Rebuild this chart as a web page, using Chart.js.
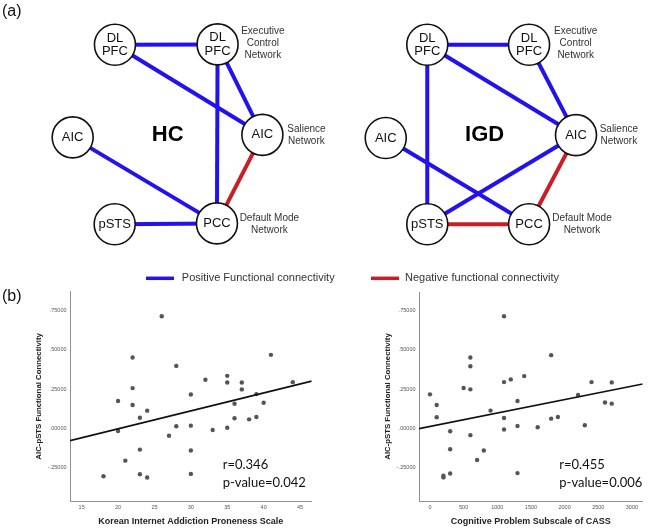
<!DOCTYPE html>
<html><head><meta charset="utf-8">
<script src="https://cdn.jsdelivr.net/npm/chart.js@4/dist/chart.umd.min.js"></script>
<style>
html,body{margin:0;padding:0;background:#fff;width:661px;height:528px;overflow:hidden;}
canvas{position:absolute;}
#net{left:0;top:0;}
#s1{left:0;top:285px;}
#s2{left:330px;top:285px;}
</style></head><body>
<canvas id="net" width="661" height="290"></canvas>
<canvas id="s1" width="330" height="243"></canvas>
<canvas id="s2" width="331" height="243"></canvas>
<script>
// ---------------- DATA ----------------
// Network diagram (a)
const nodeLabels = ['DL\nPFC','DL\nPFC','AIC','AIC','pSTS','PCC'];
const hcNodeX  = [99.5, 209.5, 54.2, 257.5, 99.2, 208.8];
const hcNodeY  = [26.7, 26.3, 136.0, 133.0, 238.5, 237.5];
const igdNodeX = [434.2, 543.3, 389.7, 593.6, 434.2, 543.3];
const igdNodeY = [26.7, 26.7, 136.7, 133.3, 238.5, 238.5];
const hcEdgeFrom = [0,0,1,1,2,4,3];
const hcEdgeTo   = [1,3,3,5,5,5,5];
const hcEdgeSign = [1,1,1,1,1,1,-1];
const igdEdgeFrom = [0,0,0,1,2,3,3,4];
const igdEdgeTo   = [1,3,4,3,5,4,5,5];
const igdEdgeSign = [1,1,1,1,1,1,-1,-1];
const groupNames = ['HC','IGD'];
const networkNames = [['Executive','Control','Network'],['Salience','Network'],['Default Mode','Network']];
const legendLabels = ['Positive Functional connectivity','Negative functional connectivity'];

// Scatter (b) left: Korean Internet Addiction Proneness Scale
const kiapsX  = [26,22,28,22,20,22,24,23,28,20,27,23,21,23,24,18,30,30,30,30,32,33,35,35,35,36,36,37,37,38,39,39,40,41,44];
const kiapsFC = [0.712,0.45,0.397,0.256,0.174,0.149,0.113,0.068,0.014,-0.016,-0.046,-0.134,-0.204,-0.29,-0.311,-0.303,0.216,0.018,-0.14,-0.288,0.309,-0.01,0.334,0.292,0.005,0.157,0.065,0.292,0.248,0.058,0.218,0.073,0.163,0.467,0.294];
const kiapsLineX = [13.4, 46.6];
const kiapsLineY = [-0.077, 0.300];
const kiapsTicks = [15,20,25,30,35,40,45];
const kiapsStats = ['r=0.346','p-value=0.042'];

// Scatter (b) right: Cognitive Problem Subscale of CASS
const cassX  = [0,100,100,200,200,300,300,300,500,600,600,600,600,700,800,900,1100,1100,1100,1100,1200,1300,1300,1300,1400,1600,1800,1800,1900,2200,2300,2400,2600,2700,2700];
const cassFC = [0.217,0.15,0.072,-0.300,-0.310,-0.017,-0.131,-0.285,0.257,0.451,0.396,0.249,-0.042,-0.2,-0.139,0.114,0.713,0.295,0.067,-0.006,0.312,0.175,0.016,-0.283,0.333,0.008,0.466,0.063,0.073,0.213,0.021,0.295,0.165,0.293,0.158];
const cassLineX = [-163, 3160];
const cassLineY = [0.0, 0.283];
const cassTicks = [0,500,1000,1500,2000,2500,3000];
const cassStats = ['r=0.455','p-value=0.006'];

const fcTickValues = [-0.25, 0, 0.25, 0.5, 0.75];
const fcTickLabels = ['-.25000','.00000','.25000','.50000','.75000'];
const yAxisTitle = 'AIC-pSTS Functional Connectivity';
const xTitleLeft = 'Korean Internet Addiction Proneness Scale';
const xTitleRight = 'Cognitive Problem Subscale of CASS';

// ---------------- STYLE / LAYOUT ----------------
const BLUE = '#2212ee', RED = '#c81e26';
const ARIAL = '"Liberation Sans", Arial, sans-serif';
const LAYOUT = {
  groupLabelPos: [[156,133.5],[495.7,133.5]],
  netLabelPos: [[[258,25],[304.7,133.3],[265,238.3]],[[593.3,25],[639.5,133.3],[600,238.3]]],
  legendY: 278.3,
  legendLines: [[146,174],[371,399]],
  legendTextX: [181.8, 405]
};

// ---------------- NETWORK CHART ----------------
function edgeSets(nx, ny, from, to, sign) {
  return from.map((f, i) => ({
    type: 'scatter',
    data: [{x: nx[f], y: ny[f]}, {x: nx[to[i]], y: ny[to[i]]}],
    showLine: true, borderColor: sign[i] > 0 ? BLUE : RED, borderWidth: 4,
    pointRadius: 0, order: 2, clip: false
  }));
}
function nodeSet(nx, ny) {
  return {
    type: 'scatter',
    data: nx.map((x, i) => ({x, y: ny[i]})),
    pointRadius: 20.5, pointBackgroundColor: '#fff', pointBorderColor: '#111',
    pointBorderWidth: 1.6, order: 0, clip: false
  };
}
const netTextPlugin = {
  id: 'netText',
  afterDatasetsDraw(chart) {
    const ctx = chart.ctx, sx = chart.scales.x, sy = chart.scales.y;
    ctx.save();
    ctx.textAlign = 'center'; ctx.textBaseline = 'middle';
    // node labels
    ctx.fillStyle = '#111'; ctx.font = '13px ' + ARIAL;
    [[hcNodeX, hcNodeY],[igdNodeX, igdNodeY]].forEach(([nx, ny]) => {
      nx.forEach((x, i) => {
        const lines = nodeLabels[i].split('\n');
        const px = sx.getPixelForValue(x), py = sy.getPixelForValue(ny[i]);
        lines.forEach((t, k) => ctx.fillText(t, px, py + (k - (lines.length - 1) / 2) * 13.4));
      });
    });
    // group labels
    ctx.font = 'bold 22px ' + ARIAL; ctx.fillStyle = '#000';
    groupNames.forEach((g, i) => ctx.fillText(g, sx.getPixelForValue(LAYOUT.groupLabelPos[i][0]), sy.getPixelForValue(LAYOUT.groupLabelPos[i][1])));
    // network labels
    ctx.font = '10px ' + ARIAL; ctx.fillStyle = '#333';
    LAYOUT.netLabelPos.forEach(panel => panel.forEach((p, j) => {
      const lines = networkNames[j];
      lines.forEach((t, k) => ctx.fillText(t, sx.getPixelForValue(p[0]), sy.getPixelForValue(p[1]) + (k - (lines.length - 1) / 2) * 11.7));
    }));
    // (a)
    ctx.font = '16px ' + ARIAL; ctx.fillStyle = '#111'; ctx.textAlign = 'left';
    ctx.fillText('(a)', 2, 12);
    // legend
    ctx.font = '11px ' + ARIAL; ctx.fillStyle = '#333';
    [BLUE, RED].forEach((c, i) => {
      ctx.strokeStyle = c; ctx.lineWidth = 3.5;
      ctx.beginPath(); ctx.moveTo(LAYOUT.legendLines[i][0], LAYOUT.legendY); ctx.lineTo(LAYOUT.legendLines[i][1], LAYOUT.legendY); ctx.stroke();
      ctx.fillText(legendLabels[i], LAYOUT.legendTextX[i], LAYOUT.legendY);
    });
    ctx.restore();
  }
};
new Chart(document.getElementById('net'), {
  type: 'scatter',
  data: { datasets: [nodeSet(hcNodeX, hcNodeY), nodeSet(igdNodeX, igdNodeY),
    ...edgeSets(hcNodeX, hcNodeY, hcEdgeFrom, hcEdgeTo, hcEdgeSign),
    ...edgeSets(igdNodeX, igdNodeY, igdEdgeFrom, igdEdgeTo, igdEdgeSign)] },
  options: {
    responsive: false, animation: false, events: [],
    layout: { padding: 0 },
    scales: {
      x: { display: false, min: 0, max: 661 },
      y: { display: false, min: 0, max: 290, reverse: true }
    },
    plugins: { legend: { display: false }, tooltip: { enabled: false } }
  },
  plugins: [netTextPlugin]
});

// ---------------- SCATTER CHARTS ----------------
function scatterChart(id, xs, ys, lx, ly, xMin, xMax, xTicks, xTitle, stats, opt) {
  const statPlugin = {
    id: 'stats' + id,
    afterDraw(chart) {
      const ctx = chart.ctx;
      ctx.save();
      ctx.fillStyle = '#111'; ctx.font = '13px Lato, "Noto Sans", sans-serif';
      ctx.textAlign = 'left'; ctx.textBaseline = 'middle';
      stats.forEach((t, i) => ctx.fillText(t, opt.statX, 180 + i * 17.7));
      if (opt.tag) { ctx.font = '16px ' + ARIAL; ctx.fillStyle = '#111'; ctx.fillText(opt.tag, 2, 12); }
      ctx.restore();
    }
  };
  new Chart(document.getElementById(id), {
    type: 'scatter',
    data: { datasets: [
      { data: lx.map((x, i) => ({x, y: ly[i]})), showLine: true, borderColor: '#111', borderWidth: 1.7, pointRadius: 0, order: 0 },
      { data: xs.map((x, i) => ({x, y: ys[i]})), pointRadius: 2.2, pointBackgroundColor: '#555', pointBorderWidth: 0, order: 1 }
    ]},
    options: {
      responsive: false, animation: false, events: [],
      layout: { padding: { top: opt.padTop, right: opt.padRight, left: 0, bottom: 0 } },
      scales: {
        x: {
          type: 'linear', min: xMin, max: xMax,
          grid: { display: false, drawTicks: false },
          border: { display: true, color: '#909090', width: 1 },
          afterBuildTicks: s => { s.ticks = xTicks.map(v => ({value: v})); },
          afterFit: s => { s.height = 27; },
          ticks: { autoSkip: false, maxRotation: 0, padding: 3, color: '#555', font: { size: 5.5, family: ARIAL }, callback: v => String(v) },
          title: { display: true, text: xTitle, color: '#222', font: { size: 9, weight: 'bold', family: ARIAL }, padding: { top: 0, bottom: 0.9 } }
        },
        y: {
          type: 'linear', min: -0.46, max: 0.867,
          grid: { display: false, drawTicks: false },
          border: { display: true, color: '#909090', width: 1 },
          afterBuildTicks: s => { s.ticks = fcTickValues.map(v => ({value: v})); },
          afterFit: s => { s.width = opt.yWidth; },
          ticks: { autoSkip: false, padding: 3.5, color: '#555', font: { size: 5.5, family: ARIAL },
                   callback: v => fcTickLabels[fcTickValues.indexOf(v)] },
          title: { display: true, text: yAxisTitle, color: '#222', font: { size: 7.8, weight: 'bold', family: ARIAL, lineHeight: 1.2 }, padding: { top: opt.yTitleX - 4.68, bottom: 0 } }
        }
      },
      plugins: { legend: { display: false }, tooltip: { enabled: false } }
    },
    plugins: [statPlugin]
  });
}
scatterChart('s1', kiapsX, kiapsFC, kiapsLineX, kiapsLineY, 13.4, 46.6, kiapsTicks, xTitleLeft, kiapsStats,
  { padTop: 6.5, padRight: 18.3, yWidth: 70, yTitleX: 39.3, statX: 222.7, tag: '(b)' });
scatterChart('s2', cassX, cassFC, cassLineX, cassLineY, -163, 3160, cassTicks, xTitleRight, cassStats,
  { padTop: 7, padRight: 18.3, yWidth: 89, yTitleX: 58.3, statX: 229.3 });
</script>
</body></html>
